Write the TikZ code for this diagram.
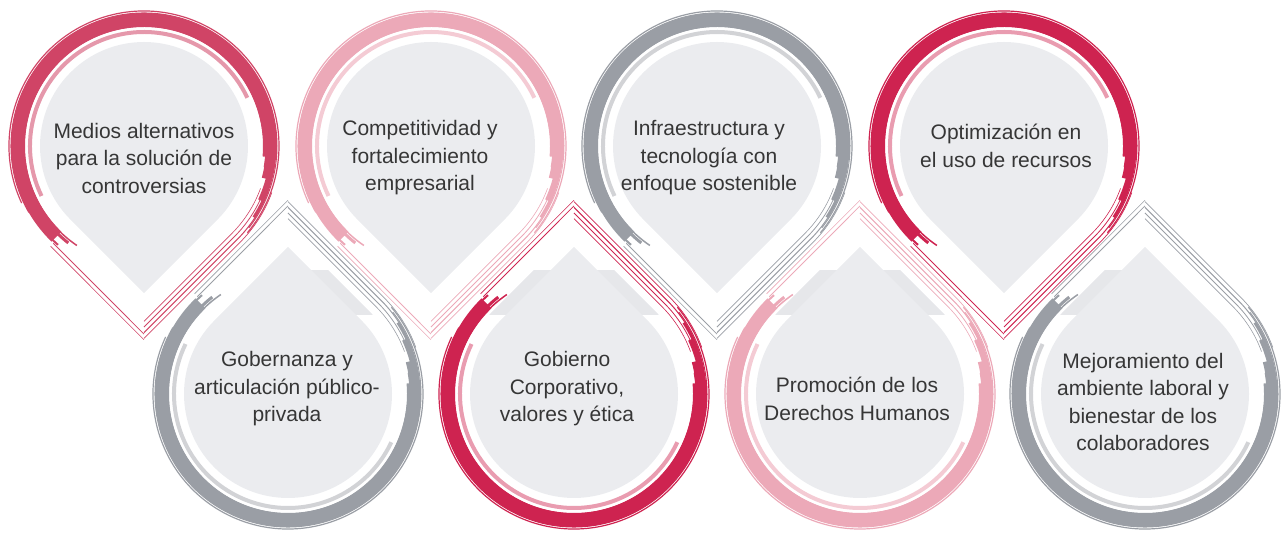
\documentclass[tikz,border=0pt]{standalone}
\usepackage{fontspec}
\setmainfont{Liberation Sans}
\definecolor{crimson}{HTML}{CE2350}
\definecolor{rosewood}{HTML}{D04466}
\definecolor{blush}{HTML}{ECA9B8}
\definecolor{slate}{HTML}{9A9EA5}
\definecolor{dropfill}{HTML}{EBECEF}
\definecolor{bandgrey}{HTML}{E6E7EA}
\definecolor{labeltext}{HTML}{363636}

\begin{document}
\begin{tikzpicture}[x=1pt,y=1pt,
    droptext/.style={text=labeltext,align=center,font=\fontsize{21}{27.5}\selectfont}]
    \def \rfill {104}  % grey disc
    \def \rgap {116}   % inner edge of the brush ring
    \def \ytop {389}
    \def \ybot {141}
    \useasboundingbox (0,0) rectangle (1281,535);
    % drop outline: disc with a square corner at r*sqrt(2)
    \def\dropshape#1{(225:#1) arc[start angle=225,end angle=-45,radius=#1] -- (0,{-1.4142*#1}) -- cycle}
    % brush ring round a drop
    \def\dropring#1#2{
      \draw[line width=4,#2] (206:114) arc[start angle=206,end angle=25,radius=114];
      \foreach \rad/\from/\to/\wd in {126/226/-5/14, 127/222/-15/10, 129/218/-25/6,
                                      131/214/-33/3, 123/232/-10/3, 131/229/0/2,
                                      120/236/5/1.5, 135/205/-40/1.2, 133/210/-38/1}
        \draw[line width=\wd,#1] (\from:\rad) arc[start angle=\from,end angle=\to,radius=\rad];
      \foreach \rad/\wd in {124/0.6, 128/0.8, 132/1, 136/0.7}
        \draw[line width=\wd,#1] (-20:\rad) arc[start angle=-20,end angle=-45,radius=\rad]
          -- (0,{-1.4142*\rad});
      \foreach \rad/\wd in {133/0.8, 137/0.6}
        \draw[line width=\wd,#1] (0,{-1.4142*\rad}) -- (227:\rad);
    }
    % upper row, tips down
    \foreach \cx/\ink/\soft in {144/rosewood/rosewood!55, 431/blush/blush!60,
                                717/slate/slate!45, 1004/crimson/crimson!45}
    {
      \begin{scope}[shift={(\cx,\ytop)}]
        \fill[dropfill] \dropshape{\rfill};
        \dropring{\ink}{\soft}
      \end{scope}
    }
    % lower row, tips up
    \foreach \cx/\ink/\soft in {288/slate/slate!45, 574/crimson/crimson!45,
                                860/blush/blush!60, 1145/slate/slate!45}
    {
      \begin{scope}
        \clip[shift={(\cx,\ybot)},yscale=-1] \dropshape{\rgap};
        \fill[bandgrey] (307,220) rectangle (1123,265);
      \end{scope}
      \begin{scope}[shift={(\cx,\ybot)},yscale=-1]
        \fill[dropfill] \dropshape{\rfill};
        \dropring{\ink}{\soft}
      \end{scope}
    }
    \node[droptext] (t1) at (144,377) {Medios alternativos\\para la solución de\\controversias};
    \node[droptext] (t2) at (420,377) {Competitividad y\\fortalecimiento\\empresarial};
    \node[droptext] (t3) at (709,377) {Infraestructura y\\tecnología con\\enfoque sostenible};
    \node[droptext] (t4) at (1006,389) {Optimización en\\el uso de recursos};
    \node[droptext] (b1) at (287,146) {Gobernanza y\\articulación público-\\privada};
    \node[droptext] (b2) at (567,146) {Gobierno\\Corporativo,\\valores y ética};
    \node[droptext] (b3) at (857,136) {Promoción de los\\Derechos Humanos};
    \node[droptext] (b4) at (1143,133) {Mejoramiento del\\ambiente laboral y\\bienestar de los\\colaboradores};
\end{tikzpicture}
\end{document}
